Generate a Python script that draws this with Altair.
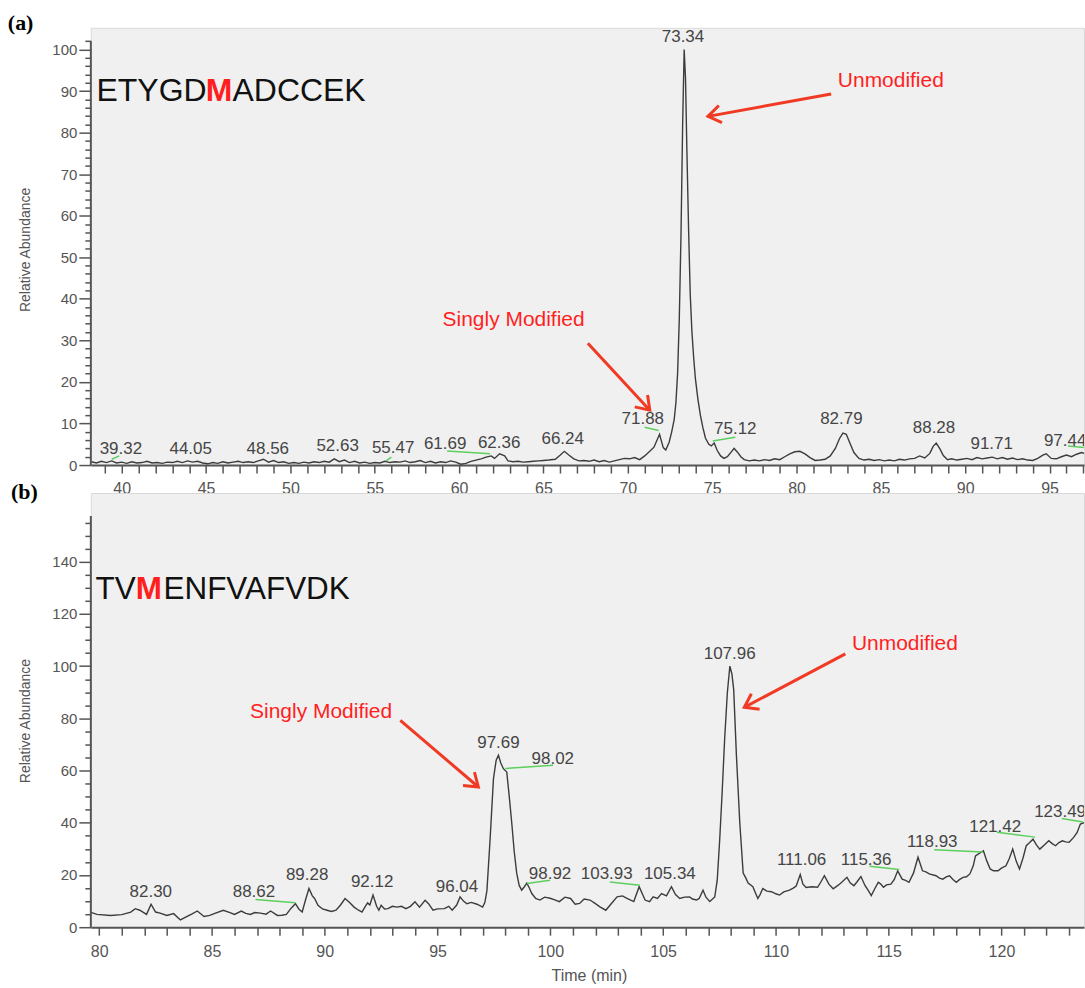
import math
import altair as alt
import pandas as pd

# ---------------- Panel (a) chromatogram: ETYGDMADCCEK ----------------
A_TIME = [38.2, 38.5, 38.8, 39.1, 39.4, 39.7, 40.0, 40.3, 40.6, 40.9, 41.2, 41.5, 41.8, 42.1, 42.4, 42.7,
          43.0, 43.3, 43.6, 43.9, 44.2, 44.5, 44.8, 45.1, 45.4, 45.7, 46.0, 46.3, 46.6, 46.9, 47.2, 47.5,
          47.8, 48.1, 48.4, 48.7, 49.0, 49.3, 49.6, 49.9, 50.2, 50.5, 50.8, 51.1, 51.4, 51.7, 52.0, 52.3,
          52.6, 52.9, 53.2, 53.5, 53.8, 54.1, 54.4, 54.7, 55.0, 55.3, 55.6, 55.9, 56.2, 56.5, 56.8, 57.1,
          57.4, 57.7, 58.0, 58.3, 58.6, 58.9, 59.2, 59.5, 59.8, 60.1, 60.4, 60.7, 61.0, 61.3, 61.6, 61.9,
          62.1, 62.4, 62.7, 62.9, 63.2, 63.5, 63.8, 64.1, 64.4, 64.7, 65.0, 65.3, 65.7, 66.0, 66.24, 66.5,
          66.8, 67.1, 67.4, 67.7, 68.0, 68.3, 68.6, 68.9, 69.2, 69.5, 69.8, 70.1, 70.4, 70.7, 71.0, 71.3,
          71.55, 71.88, 72.1, 72.25, 72.45, 72.6, 72.75, 72.85, 72.95, 73.05, 73.15, 73.25, 73.34, 73.42,
          73.5, 73.6, 73.7, 73.8, 73.9, 74.0, 74.15, 74.3, 74.45, 74.6, 74.8, 74.95, 75.12, 75.3, 75.5,
          75.7, 75.9, 76.1, 76.3, 76.5, 76.7, 76.9, 77.2, 77.5, 77.8, 78.1, 78.4, 78.7, 79.0, 79.3, 79.6,
          79.9, 80.2, 80.5, 80.8, 81.1, 81.4, 81.7, 82.0, 82.3, 82.55, 82.75, 82.95, 83.15, 83.4, 83.7,
          84.0, 84.3, 84.6, 84.9, 85.2, 85.5, 85.8, 86.1, 86.4, 86.7, 87.0, 87.3, 87.6, 87.9, 88.1, 88.28,
          88.5, 88.7, 88.95, 89.2, 89.5, 89.8, 90.1, 90.4, 90.7, 91.0, 91.3, 91.6, 91.9, 92.2, 92.5, 92.8,
          93.1, 93.4, 93.7, 94.0, 94.3, 94.6, 94.8, 95.1, 95.4, 95.7, 96.0, 96.3, 96.6, 96.9, 97.1]
A_ABUND = [0.8, 0.5, 0.9, 0.6, 1.0, 0.5, 0.7, 0.4, 0.8, 0.5, 0.6, 0.9, 0.5, 0.6, 0.4, 0.7,
           0.6, 0.9, 0.6, 1.0, 0.7, 0.9, 0.5, 0.3, 0.6, 0.4, 0.8, 0.5, 0.7, 0.9, 0.6, 0.8,
           0.6, 1.0, 1.4, 0.7, 1.1, 0.6, 0.8, 0.4, 0.6, 0.4, 0.7, 0.5, 0.8, 0.6, 0.9, 0.7,
           1.5, 0.8, 1.2, 0.6, 0.9, 0.5, 0.7, 0.4, 0.6, 0.5, 0.9, 0.6, 0.8, 0.7, 1.0, 0.6,
           0.8, 1.1, 0.6, 0.9, 0.5, 0.8, 0.6, 1.0, 0.7, 0.2, 0.4, 0.9, 1.2, 1.5, 1.9, 2.2,
           1.6, 2.7, 2.2, 1.0, 0.8, 0.9, 0.7, 0.8, 0.9, 1.0, 1.1, 1.2, 1.4, 2.4, 3.3, 2.4,
           1.5, 1.0, 1.1, 0.9, 1.2, 0.8, 1.1, 0.7, 1.0, 1.3, 1.6, 1.5, 1.8, 1.3, 2.2, 3.3,
           4.3, 7.4, 4.2, 3.6, 5.5, 8.0, 11.0, 15.0, 22.0, 35.0, 55.0, 82.0, 100.0, 93.0,
           76.0, 57.0, 41.0, 32.0, 26.0, 21.0, 16.0, 12.0, 9.0, 6.5, 5.0, 4.6, 5.3, 3.5, 2.2,
           1.6, 2.0, 3.0, 4.0, 3.1, 2.0, 1.3, 1.0, 1.2, 1.0, 1.3, 1.1, 1.5, 1.3, 2.0, 2.7,
           3.2, 3.3, 2.7, 1.8, 1.1, 1.2, 1.4, 2.2, 4.0, 6.4, 7.7, 7.4, 5.4, 3.0, 1.6,
           1.2, 1.4, 1.1, 1.3, 1.0, 1.2, 1.0, 1.4, 1.2, 1.5, 1.6, 2.2, 1.7, 2.8, 4.5, 5.3,
           3.9, 2.3, 1.3, 1.5, 1.2, 1.4, 1.6, 1.3, 1.8, 1.5, 1.7, 1.9, 1.5, 1.8, 1.4, 1.7,
           1.3, 1.5, 1.2, 1.1, 1.6, 2.4, 2.7, 1.6, 1.5, 2.0, 2.4, 2.0, 2.6, 3.0, 2.8]

A_LBL_TEXT = ["39.32", "44.05", "48.56", "52.63", "55.47", "61.69", "62.36", "66.24", "71.88",
              "73.34", "75.12", "82.79", "88.28", "91.71", "97.44"]
A_LBL_T = [39.95, 44.09, 48.66, 52.80, 56.09, 59.17, 62.37, 66.14, 70.89,
           73.27, 76.37, 82.66, 88.15, 91.57, 95.92]
A_LBL_V = [3.8, 3.8, 3.8, 4.6, 4.2, 5.0, 5.4, 6.2, 11.0, 103.1, 8.6, 11.0, 9.0, 5.1, 5.9]

A_GREEN_T1 = [39.41, 55.68, 59.29, 71.00, 75.03, 96.09]
A_GREEN_V1 = [1.4, 1.0, 3.4, 9.1, 5.8, 4.6]
A_GREEN_T2 = [39.85, 55.98, 61.83, 71.83, 76.37, 97.04]
A_GREEN_V2 = [2.2, 1.9, 2.7, 8.3, 6.7, 4.2]

A_NOTE_TEXT = ["Unmodified", "Singly Modified"]
A_NOTE_T = [85.59, 63.23]
A_NOTE_V = [92.3, 34.9]
A_ARROW_T1 = [82.05, 67.63]
A_ARROW_V1 = [89.3, 29.3]
A_ARROW_T2 = [74.75, 71.30]
A_ARROW_V2 = [83.9, 13.2]

A_SEQ = ["ETYGD", "M", "ADCCEK"]
A_SEQ_T = [45.03, 45.77, 46.57]
A_SEQ_V = 87.7

# ---------------- Panel (b) chromatogram: TVMENFVAFVDK ----------------
B_TIME = [79.6, 79.9, 80.5, 81.0, 81.4, 81.6, 81.8, 82.1, 82.3, 82.5, 82.7, 83.0, 83.3, 83.6, 83.9, 84.1,
          84.35, 84.65, 84.9, 85.1, 85.5, 85.8, 86.0, 86.3, 86.5, 86.7, 86.9, 87.15, 87.4, 87.6, 87.9,
          88.1, 88.3, 88.5, 88.7, 88.85, 89.0, 89.15, 89.3, 89.45, 89.55, 89.7, 89.9, 90.1, 90.3, 90.5,
          90.7, 90.9, 91.1, 91.3, 91.5, 91.65, 91.8, 91.9, 92.0, 92.14, 92.3, 92.4, 92.5, 92.65, 92.8,
          93.0, 93.2, 93.4, 93.6, 93.8, 94.0, 94.2, 94.45, 94.6, 94.8, 95.0, 95.3, 95.5, 95.65, 95.85,
          96.0, 96.15, 96.3, 96.5, 96.75, 97.0, 97.1, 97.19, 97.33, 97.48, 97.6, 97.7, 97.8, 97.92,
          98.07, 98.18, 98.29, 98.4, 98.51, 98.62, 98.73, 98.85, 98.96, 99.07, 99.18, 99.35, 99.54,
          99.75, 99.99, 100.2, 100.4, 100.65, 100.9, 101.1, 101.3, 101.5, 101.76, 102.0, 102.2, 102.46,
          102.7, 102.96, 103.2, 103.4, 103.7, 103.94, 104.2, 104.4, 104.56, 104.75, 104.93, 105.15,
          105.37, 105.55, 105.74, 105.95, 106.18, 106.3, 106.48, 106.6, 106.77, 106.9, 107.07, 107.29,
          107.4, 107.51, 107.62, 107.73, 107.85, 107.96, 108.05, 108.13, 108.25, 108.4, 108.55, 108.66,
          108.77, 108.98, 109.1, 109.2, 109.3, 109.42, 109.6, 109.8, 110.0, 110.16, 110.35, 110.6,
          110.77, 110.9, 111.08, 111.2, 111.34, 111.6, 111.85, 112.0, 112.15, 112.35, 112.54, 112.75,
          112.92, 113.15, 113.3, 113.46, 113.6, 113.77, 113.95, 114.1, 114.23, 114.4, 114.54, 114.65,
          114.77, 114.9, 115.1, 115.25, 115.4, 115.6, 115.75, 115.9, 116.1, 116.3, 116.5, 116.65, 116.8,
          117.1, 117.25, 117.4, 117.55, 117.7, 117.85, 118.0, 118.15, 118.3, 118.45, 118.6, 118.75,
          118.85, 119.0, 119.2, 119.35, 119.5, 119.65, 119.85, 120.0, 120.2, 120.35, 120.5, 120.65,
          120.8, 120.95, 121.1, 121.25, 121.4, 121.55, 121.7, 121.9, 122.1, 122.25, 122.4, 122.55,
          122.7, 122.85, 123.0, 123.2, 123.35, 123.5, 123.66]
B_ABUND = [5.8, 4.9, 4.5, 4.8, 5.8, 7.1, 6.5, 4.9, 8.8, 5.8, 5.4, 4.5, 5.2, 2.8, 4.1, 5.0,
           6.2, 4.1, 4.5, 5.2, 6.5, 5.6, 4.9, 6.2, 5.3, 4.9, 5.6, 5.4, 5.0, 6.2, 4.5,
           4.6, 4.9, 7.2, 9.0, 7.0, 5.8, 10.5, 14.8, 12.0, 11.0, 8.4, 7.0, 6.5, 6.0, 6.5,
           8.5, 11.0, 9.5, 7.7, 6.5, 5.8, 8.0, 9.3, 8.5, 12.3, 8.0, 6.5, 8.4, 7.0, 7.1,
           8.0, 7.7, 8.0, 7.1, 8.0, 9.7, 7.7, 10.3, 9.0, 6.5, 7.0, 7.1, 8.0, 6.5, 8.5,
           11.6, 10.0, 9.0, 9.5, 8.8, 7.7, 9.5, 14.0, 33.6, 56.9, 64.0, 65.9, 63.0, 60.7,
           59.4, 50.0, 40.0, 29.0, 20.7, 16.0, 14.2, 15.5, 16.9, 15.0, 12.9, 11.0, 10.4,
           11.5, 11.1, 10.5, 9.8, 11.5, 11.0, 8.8, 9.1, 10.8, 10.4, 9.0, 7.8, 6.5,
           9.0, 11.6, 12.0, 11.0, 9.8, 15.5, 10.4, 9.8, 11.6, 11.0, 12.9, 12.0,
           15.5, 12.5, 11.0, 11.5, 11.6, 10.8, 10.4, 11.0, 14.2, 11.5, 9.8, 11.6,
           18.0, 33.6, 52.0, 72.3, 90.0, 100.0, 97.0, 91.0, 65.9, 40.0, 20.7, 19.0,
           16.9, 15.5, 13.0, 11.0, 12.5, 14.8, 13.8, 13.6, 12.8, 12.3, 13.5, 14.2,
           15.0, 15.8, 20.2, 16.5, 15.2, 15.5, 15.3, 17.4, 19.7, 16.5, 14.7, 16.0,
           17.2, 19.1, 16.9, 15.9, 17.4, 19.4, 16.0, 14.0, 12.1, 15.0, 17.2, 16.5,
           15.3, 16.2, 16.5, 18.3, 21.6, 18.4, 17.9, 17.2, 20.7, 26.8, 21.6, 21.2, 20.4,
           19.7, 18.8, 18.4, 19.3, 19.7, 18.3, 17.2, 18.3, 19.1, 19.3, 20.4, 23.5,
           27.3, 28.2, 29.3, 25.4, 22.3, 21.6, 21.6, 22.6, 23.5, 26.3, 29.9, 25.4,
           22.3, 26.3, 31.2, 32.4, 33.7, 31.5, 29.9, 31.5, 33.1, 32.0, 31.2, 32.4,
           33.1, 32.7, 32.5, 34.4, 36.2, 39.5, 40.0]

B_LBL_TEXT = ["82.30", "88.62", "89.28", "92.12", "96.04", "97.69", "98.02", "98.92", "103.93",
              "105.34", "107.96", "111.06", "115.36", "118.93", "121.42", "123.49"]
B_LBL_T = [82.29, 86.86, 89.22, 92.10, 95.86, 97.70, 100.11, 99.99, 102.50,
           105.30, 107.95, 111.14, 114.00, 116.93, 119.72, 122.60]
B_LBL_V = [13.5, 13.5, 19.9, 17.3, 15.4, 70.5, 64.5, 20.5, 20.2,
           20.2, 104.7, 25.6, 25.6, 32.6, 38.4, 44.1]

B_GREEN_T1 = [86.93, 98.96, 98.00, 102.64, 114.15, 117.02, 119.80, 122.68]
B_GREEN_V1 = [10.6, 16.7, 60.8, 17.3, 23.3, 29.7, 36.4, 41.6]
B_GREEN_T2 = [88.70, 99.99, 100.12, 103.97, 115.47, 119.18, 121.49, 123.61]
B_GREEN_V2 = [9.4, 18.0, 62.0, 16.1, 22.1, 28.8, 34.5, 40.3]

B_NOTE_TEXT = ["Unmodified", "Singly Modified"]
B_NOTE_T = [115.72, 89.84]
B_NOTE_V = [108.5, 82.3]
B_ARROW_T1 = [113.08, 93.35]
B_ARROW_V1 = [104.7, 79.2]
B_ARROW_T2 = [108.60, 96.81]
B_ARROW_V2 = [84.2, 53.7]

B_SEQ = ["TV", "M", "ENFVAFVDK"]
B_SEQ_T = [81.62, 82.20, 82.85]
B_SEQ_V = 125.8

PANEL_TAGS = ["(a)", "(b)"]
TAG_T = [33.25, 76.09]
TAG_V = [106.4, 166.5]

# ---------------- styling / layout ----------------
FONT = "Liberation Sans"
AX_COL = "#555555"
LINE_COL = "#3c3c3c"
RED_TXT = "#ff1f1f"
RED_ARW = "#f03a24"
GREEN = "#5ccf5c"
W = 995
ARROW_PATH = "M -0.9 1.3 L 0 0 L 0.9 1.3"


def panel(time, abund, xdom, ydom, height, xticks, xlab_mod, yticks, ylab_mod, yaxis_top,
          lbl_text, lbl_t, lbl_v, g_t1, g_v1, g_t2, g_v2,
          note_text, note_t, note_v, a_t1, a_v1, a_t2, a_v2,
          seq, seq_t, seq_v, seq_size, tag, tag_t, tag_v, ytitle_y, xtitle):
    px = W / (xdom[1] - xdom[0])
    py = height / (ydom[1] - ydom[0])
    xs = alt.Scale(domain=xdom, nice=False, zero=False)
    ys = alt.Scale(domain=ydom, nice=False, zero=False)

    x_axis = alt.Axis(values=xticks,
                      labelExpr=f"datum.value % {xlab_mod} === 0 ? datum.label : ''",
                      tickSize=8, tickWidth=1.5, tickColor=AX_COL,
                      domainColor=AX_COL, domainWidth=2,
                      labelColor=AX_COL, labelFont=FONT, labelFontSize=16,
                      labelPadding=8, labelOverlap=False, labelFlush=False, grid=False,
                      title=xtitle if xtitle else None,
                      titleFont=FONT, titleFontSize=16, titleFontWeight="normal",
                      titleColor=AX_COL, titleX=W / 2 + 1.5, titleY=48,
                      titleBaseline="middle")
    y_axis = alt.Axis(values=yticks,
                      labelExpr=f"datum.value % {ylab_mod} === 0 ? datum.label : ''",
                      tickSize={"condition": {"test": f"datum.value % {ylab_mod} === 0", "value": 12},
                                "value": 6},
                      tickWidth=1.5, tickColor=AX_COL, domain=False,
                      labelColor=AX_COL, labelFont=FONT, labelFontSize=15,
                      labelPadding=2, labelOverlap=False, labelFlush=False, grid=False,
                      title="Relative Abundance", titleFont=FONT, titleFontSize=14,
                      titleFontWeight="normal", titleColor=AX_COL,
                      titleX=-65, titleY=ytitle_y, titleAngle=270,
                      titleAlign="center", titleBaseline="middle")

    def X(f):
        return alt.X(f, scale=xs, axis=x_axis)

    def Y(f):
        return alt.Y(f, scale=ys, axis=y_axis)

    trace_df = pd.DataFrame({"t": time, "v": abund})
    trace = alt.Chart(trace_df).mark_line(color=LINE_COL, strokeWidth=1.4, clip=True).encode(
        x=X("t:Q"), y=Y("v:Q"))

    yline = alt.Chart(pd.DataFrame({"v": [0.0], "v2": [yaxis_top]})).mark_rule(
        color=AX_COL, strokeWidth=2).encode(x=alt.value(0), y=Y("v:Q"), y2="v2:Q")

    green_df = pd.DataFrame({"t": g_t1, "v": g_v1, "t2": g_t2, "v2": g_v2})
    green = alt.Chart(green_df).mark_rule(color=GREEN, strokeWidth=1.5, clip=True).encode(
        x=X("t:Q"), y=Y("v:Q"), x2="t2:Q", y2="v2:Q")

    lbl_df = pd.DataFrame({"t": lbl_t, "v": lbl_v, "txt": lbl_text})
    labels = alt.Chart(lbl_df).mark_text(font=FONT, fontSize=17, color="#454545",
                                         baseline="middle", align="center", clip=True).encode(
        x=X("t:Q"), y=Y("v:Q"), text="txt:N")

    ang = []
    for t1, v1, t2, v2 in zip(a_t1, a_v1, a_t2, a_v2):
        dx = (t2 - t1) * px
        dy = -(v2 - v1) * py
        ang.append(math.degrees(math.atan2(dx, -dy)) % 360)
    arr_df = pd.DataFrame({"t": a_t1, "v": a_v1, "t2": a_t2, "v2": a_v2, "ang": ang})
    shafts = alt.Chart(arr_df).mark_rule(color=RED_ARW, strokeWidth=3, strokeCap="butt").encode(
        x=X("t:Q"), y=Y("v:Q"), x2="t2:Q", y2="v2:Q")
    head_df = pd.DataFrame({"t": a_t2, "v": a_v2, "ang": ang})
    heads = alt.Chart(head_df).mark_point(shape=ARROW_PATH, filled=False, stroke=RED_ARW,
                                          strokeWidth=3, size=380, opacity=1,
                                          strokeJoin="miter").encode(
        x=X("t:Q"), y=Y("v:Q"), angle=alt.Angle("ang:Q", scale=None))

    note_df = pd.DataFrame({"t": note_t, "v": note_v, "txt": note_text})
    notes = alt.Chart(note_df).mark_text(font=FONT, fontSize=21, color=RED_TXT,
                                         baseline="middle", align="center").encode(
        x=X("t:Q"), y=Y("v:Q"), text="txt:N")

    seq_layers = []
    aligns = ["right", "center", "left"]
    for i in range(3):
        df = pd.DataFrame({"t": [seq_t[i]], "v": [seq_v], "txt": [seq[i]]})
        is_m = i == 1
        seq_layers.append(
            alt.Chart(df).mark_text(font=FONT, fontSize=seq_size,
                                    fontWeight="bold" if is_m else "normal",
                                    color=RED_TXT if is_m else "#111111",
                                    align=aligns[i], baseline="alphabetic").encode(
                x=X("t:Q"), y=Y("v:Q"), text="txt:N")
        )

    tag_df = pd.DataFrame({"t": [tag_t], "v": [tag_v], "txt": [tag]})
    tag_mark = alt.Chart(tag_df).mark_text(font="Liberation Serif", fontSize=22, fontWeight="bold",
                                           color="#000000", align="left", baseline="middle").encode(
        x=X("t:Q"), y=Y("v:Q"), text="txt:N")

    return alt.layer(trace, yline, green, labels, shafts, heads, notes, *seq_layers, tag_mark).properties(
        width=W, height=height)


panel_a = panel(A_TIME, A_ABUND, [38.17, 97.04], [0, 105.2], 438, list(range(39, 98)), 5,
                list(range(0, 103, 2)), 10, 102,
                A_LBL_TEXT, A_LBL_T, A_LBL_V, A_GREEN_T1, A_GREEN_V1, A_GREEN_T2, A_GREEN_V2,
                A_NOTE_TEXT, A_NOTE_T, A_NOTE_V, A_ARROW_T1, A_ARROW_V1, A_ARROW_T2, A_ARROW_V2,
                A_SEQ, A_SEQ_T, A_SEQ_V, 32, PANEL_TAGS[0], TAG_T[0], TAG_V[0], 222, None)

panel_b = panel(B_TIME, B_ABUND, [79.63, 123.66], [0, 166.3], 435, list(range(80, 124)), 5,
                list(range(0, 156, 5)), 20, 157.5,
                B_LBL_TEXT, B_LBL_T, B_LBL_V, B_GREEN_T1, B_GREEN_V1, B_GREEN_T2, B_GREEN_V2,
                B_NOTE_TEXT, B_NOTE_T, B_NOTE_V, B_ARROW_T1, B_ARROW_V1, B_ARROW_T2, B_ARROW_V2,
                B_SEQ, B_SEQ_T, B_SEQ_V, 31.5, PANEL_TAGS[1], TAG_T[1], TAG_V[1], 228, "Time (min)")

chart = alt.vconcat(panel_a, panel_b, spacing=28, bounds="flush").properties(
    padding={"left": 7, "top": 10, "right": 0, "bottom": 0},
    background="#ffffff",
).configure_view(fill="#f0f0f0", stroke="#d9d9d9", strokeWidth=1)

chart.save("out.html", embed_options={"renderer": "svg", "actions": False})
